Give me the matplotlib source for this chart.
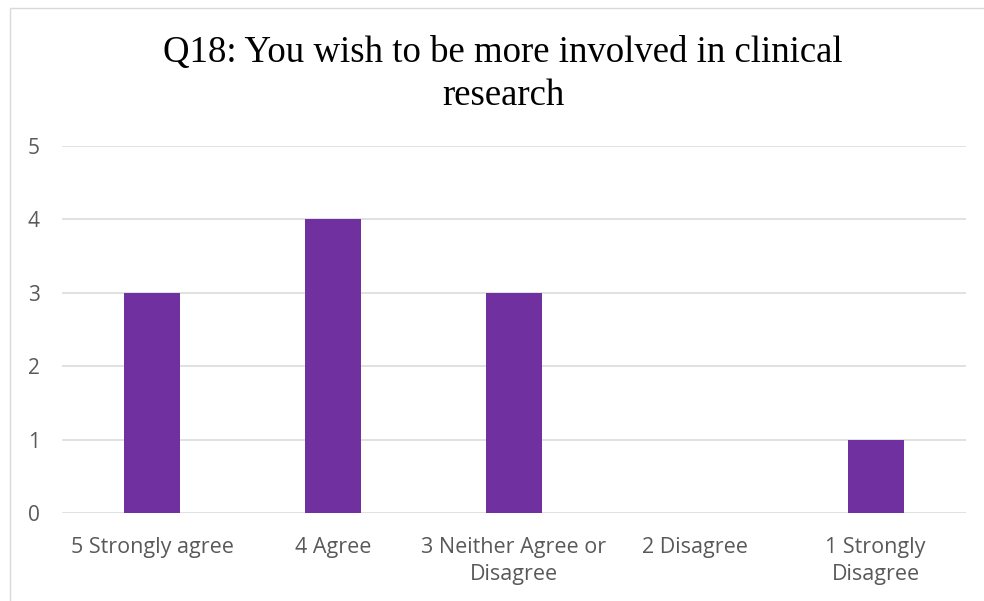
import matplotlib
matplotlib.use("Agg")
import matplotlib.pyplot as plt
from matplotlib.patches import Rectangle
import numpy as np

# Survey responses for Q18
categories = ["5 Strongly agree", "4 Agree", "3 Neither Agree or\nDisagree",
              "2 Disagree", "1 Strongly\nDisagree"]
counts = [3, 4, 3, 0, 1]
y_ticks = [0, 1, 2, 3, 4, 5]
title_lines = ["Q18: You wish to be more involved in clinical", "research"]

W, H = 984, 601
fig = plt.figure(figsize=(W / 100, H / 100), dpi=100)

# plot area in pixel terms
left, right, top, bottom = 62, 966, 146, 513
ax = fig.add_axes([left / W, (H - bottom) / H, (right - left) / W, (bottom - top) / H])

x = np.arange(len(categories))
ax.bar(x, counts, width=0.31, color="#7030A0", zorder=3)

ax.set_xlim(-0.5, len(categories) - 0.5)
ax.set_ylim(0, 5)
ax.set_yticks(y_ticks)
ax.set_xticks(x)
ax.set_xticklabels(categories, fontfamily="Open Sans", fontsize=15.5,
                   color="#595959", linespacing=1.4)
ax.set_yticklabels([str(t) for t in y_ticks], fontfamily="Open Sans",
                   fontsize=15, color="#595959")
ax.tick_params(axis="both", length=0)
ax.tick_params(axis="x", pad=17)
ax.tick_params(axis="y", pad=16)

ax.grid(axis="y", color="#D9D9D9", linewidth=1.1, zorder=0)
for s in ax.spines.values():
    s.set_visible(False)

# chart area border
fig.add_artist(Rectangle((9.5 / W, -0.2), 1.5, 1.2 - 7.5 / H,
                         transform=fig.transFigure, fill=False,
                         edgecolor="#D9D9D9", linewidth=1.0))

# two-line title
fig.text(503 / W, 1 - 62 / H, title_lines[0], ha="center", va="baseline",
         fontfamily="Liberation Serif", fontsize=26.5, color="black")
fig.text(503 / W, 1 - 105 / H, title_lines[1], ha="center", va="baseline",
         fontfamily="Liberation Serif", fontsize=26.5, color="black")

fig.savefig("out.png", dpi=100, facecolor="white")
